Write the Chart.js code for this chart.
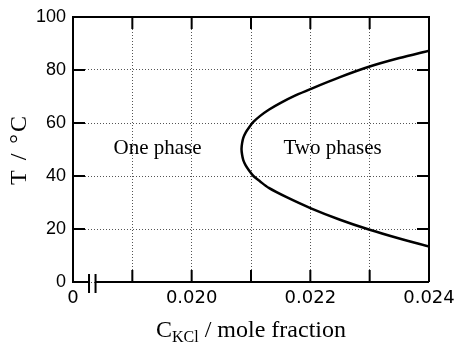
<!DOCTYPE html>
<html>
<head>
<meta charset="utf-8">
<script src="https://cdn.jsdelivr.net/npm/chart.js@4.4.1/dist/chart.umd.min.js"></script>
<style>
  html, body { margin: 0; padding: 0; background: #fff; }
  canvas { display: block; }
</style>
</head>
<body>
<canvas id="c" width="455" height="345"></canvas>
<script>
// Binodal curve of the KCl system: lower branch (from the right edge up to the vertex)
const lowerX = [0.02400, 0.02350, 0.02300, 0.02250, 0.02200, 0.02160, 0.02130, 0.02115, 0.02104, 0.02097, 0.02091, 0.02087, 0.02085];
const lowerT = [13.4, 16.4, 19.7, 23.5, 27.9, 32.0, 35.5, 38.0, 40.0, 42.0, 44.0, 46.0, 48.0];
// vertex of the curve
const vertexX = [0.02084];
const vertexT = [50.2];
// upper branch (from the vertex out to the right edge)
const upperX = [0.02085, 0.02087, 0.02091, 0.02097, 0.02104, 0.02115, 0.02130, 0.02150, 0.02175, 0.02200, 0.02250, 0.02300, 0.02350, 0.02400];
const upperT = [52.4, 54.4, 56.4, 58.4, 60.4, 62.6, 65.0, 67.6, 70.4, 72.8, 77.3, 81.3, 84.5, 87.3];

// axis ticks
const xTickValues = [0.018, 0.019, 0.020, 0.021, 0.022, 0.023, 0.024];
const xTickLabels = ['0', '', '0.020', '', '0.022', '', '0.024'];
const yTickValues = [0, 20, 40, 60, 80, 100];

// region labels
const regionNames = ['One phase', 'Two phases'];
const regionX = [0.019424, 0.022374];
const regionT = [50.3, 50.3];

const curveX = lowerX.concat(vertexX, upperX);
const curveT = lowerT.concat(vertexT, upperT);
const curve = curveX.map((x, i) => ({ x: x, y: curveT[i] }));

const SERIF = '"Liberation Serif", "Times New Roman", serif';

function xLabel(v) {
  const k = Math.round(v * 1000);
  const idx = xTickValues.findIndex(t => Math.round(t * 1000) === k);
  return idx >= 0 ? xTickLabels[idx] : '';
}

const framePlugin = {
  id: 'frame',
  afterDraw(chart) {
    const { ctx, chartArea: a, scales } = chart;
    const xs = scales.x, ys = scales.y;
    const tick = 12;
    ctx.save();
    ctx.strokeStyle = '#000';
    ctx.lineWidth = 2;
    ctx.lineCap = 'butt';

    // axis break on the x axis
    const b1 = xs.getPixelForValue(0.01827);
    const b2 = xs.getPixelForValue(0.01838);

    ctx.beginPath();
    // left, top, right edges
    ctx.moveTo(a.left, a.bottom);
    ctx.lineTo(a.left, a.top);
    ctx.lineTo(a.right, a.top);
    ctx.lineTo(a.right, a.bottom);
    // bottom edge with a gap at the break
    ctx.moveTo(a.right, a.bottom);
    ctx.lineTo(b2, a.bottom);
    ctx.moveTo(b1, a.bottom);
    ctx.lineTo(a.left - 1, a.bottom);
    ctx.stroke();

    // break bars
    ctx.beginPath();
    ctx.moveTo(b1, a.bottom - 8);
    ctx.lineTo(b1, a.bottom + 11);
    ctx.moveTo(b2, a.bottom - 8);
    ctx.lineTo(b2, a.bottom + 11);
    ctx.stroke();

    // inward tick marks
    ctx.beginPath();
    xTickValues.forEach(v => {
      const px = xs.getPixelForValue(v);
      if (px <= a.left + 1 || px >= a.right - 1) return;
      ctx.moveTo(px, a.bottom); ctx.lineTo(px, a.bottom - tick);
      ctx.moveTo(px, a.top); ctx.lineTo(px, a.top + tick);
    });
    yTickValues.forEach(v => {
      const py = ys.getPixelForValue(v);
      if (py <= a.top + 1 || py >= a.bottom - 1) return;
      ctx.moveTo(a.left, py); ctx.lineTo(a.left + tick, py);
      ctx.moveTo(a.right, py); ctx.lineTo(a.right - tick, py);
    });
    ctx.stroke();

    // region labels
    ctx.fillStyle = '#000';
    ctx.font = '21px ' + SERIF;
    ctx.textAlign = 'center';
    ctx.textBaseline = 'middle';
    regionNames.forEach((name, i) => {
      ctx.fillText(name, xs.getPixelForValue(regionX[i]), ys.getPixelForValue(regionT[i]));
    });

    // y axis title
    ctx.save();
    ctx.translate(26, (a.top + a.bottom) / 2);
    ctx.rotate(-Math.PI / 2);
    ctx.font = '24px ' + SERIF;
    ctx.letterSpacing = '2px';
    ctx.textAlign = 'center';
    ctx.textBaseline = 'alphabetic';
    ctx.fillText('T / °C', 0, 0);
    ctx.restore();

    // x axis title with subscript
    const main = '24px ' + SERIF;
    const sub = '16px ' + SERIF;
    const p1 = 'C', p2 = 'KCl', p3 = ' / mole fraction';
    ctx.font = main; const w1 = ctx.measureText(p1).width; const w3 = ctx.measureText(p3).width;
    ctx.font = sub; const w2 = ctx.measureText(p2).width;
    const total = w1 + w2 + w3;
    let x0 = (a.left + a.right) / 2 - total / 2;
    const base = 337;
    ctx.textAlign = 'left';
    ctx.textBaseline = 'alphabetic';
    ctx.font = main; ctx.fillText(p1, x0, base); x0 += w1;
    ctx.font = sub; ctx.fillText(p2, x0, base + 5); x0 += w2;
    ctx.font = main; ctx.fillText(p3, x0, base);
    ctx.restore();
  }
};

new Chart(document.getElementById('c'), {
  type: 'scatter',
  data: {
    datasets: [{
      data: curve,
      showLine: true,
      borderColor: '#000',
      borderWidth: 2.5,
      pointRadius: 0,
      tension: 0.3,
      fill: false
    }]
  },
  options: {
    responsive: false,
    devicePixelRatio: 1,
    animation: false,
    layout: { padding: { top: 17, right: 26, left: 0, bottom: 0 } },
    plugins: { legend: { display: false }, tooltip: { enabled: false } },
    scales: {
      x: {
        type: 'linear',
        min: 0.018,
        max: 0.024,
        afterFit(s) { s.height = 63; s.paddingLeft = 0; s.paddingRight = 0; },
        afterBuildTicks(s) { s.ticks = xTickValues.map(v => ({ value: v })); },
        grid: { color: '#555', lineWidth: 1, drawTicks: false },
        border: { display: false, dash: [1, 2] },
        ticks: {
          autoSkip: false,
          maxRotation: 0,
          padding: 6,
          color: '#000',
          font: { family: '"DejaVu Sans", sans-serif', size: 18 },
          callback: v => xLabel(v)
        }
      },
      y: {
        type: 'linear',
        min: 0,
        max: 100,
        afterFit(s) { s.width = 73; s.paddingTop = 0; s.paddingBottom = 0; },
        afterBuildTicks(s) { s.ticks = yTickValues.map(v => ({ value: v })); },
        grid: { color: '#555', lineWidth: 1, drawTicks: false },
        border: { display: false, dash: [1, 2] },
        ticks: {
          padding: 7,
          color: '#000',
          font: { family: '"Liberation Sans", Arial, sans-serif', size: 18 },
          callback: v => String(v)
        }
      }
    }
  },
  plugins: [framePlugin]
});
</script>
</body>
</html>
